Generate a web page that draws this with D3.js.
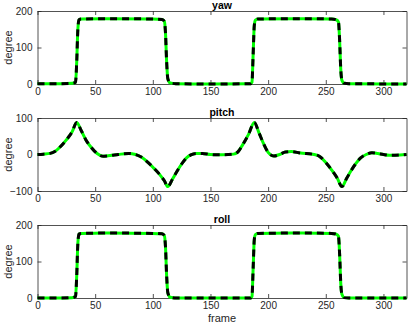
<!DOCTYPE html>
<html>
<head>
<meta charset="utf-8">
<script src="https://cdn.jsdelivr.net/npm/d3@7"></script>
<style>
  body { margin: 0; background: #fff; }
  svg { display: block; font-family: "Liberation Sans", Arial, sans-serif; }
</style>
</head>
<body>
<svg id="vis" width="409" height="324"></svg>
<script>
// frames / values
const yawFrames = [0, 20, 30, 33, 34, 35, 36, 38, 60, 100, 108, 110, 111, 112, 113, 115, 120, 150, 185, 186, 187, 188, 189, 191, 230, 255, 259, 261, 262, 263, 264, 266, 270, 320]
const yawValues = [1, 1, 2, 5, 60, 150, 176, 178, 179, 178, 177, 172, 140, 60, 15, 3, 1, 0, 1, 5, 80, 160, 175, 178, 179, 178, 176, 170, 120, 40, 10, 2, 1, 0]

const pitchFrames = [0, 5, 11, 15, 20, 25, 30, 34, 38, 42, 47, 52, 57, 63, 70, 79, 85, 90, 96, 101, 106, 110, 113, 117, 121, 125, 129, 133, 138, 143, 150, 160, 170, 174, 178, 183, 188, 192, 196, 200, 205, 210, 215, 220, 228, 240, 245, 250, 255, 260, 264, 268, 272, 276, 280, 285, 290, 295, 300, 305, 310, 320]
const pitchValues = [0, 1, 3, 8, 22, 40, 62, 88, 65, 40, 18, 2, -5, -3, 0, 3, 0, -7, -22, -38, -55, -72, -88, -68, -46, -26, -10, -1, 3, 3, 0, -1, 1, 8, 27, 55, 88, 60, 30, 6, -4, 0, 7, 8, 4, 0, -6, -22, -42, -65, -88, -66, -44, -25, -10, 0, 5, 3, 0, -2, -2, 0]

const rollFrames = [0, 20, 30, 33, 34, 35, 36, 38, 60, 100, 108, 110, 111, 112, 113, 115, 120, 150, 185, 186, 187, 188, 189, 191, 230, 255, 259, 261, 262, 263, 264, 266, 270, 320]
const rollValues = [0, 0, 1, 4, 60, 150, 175, 177, 178, 177, 176, 171, 140, 60, 15, 2, 0, 0, 0, 4, 80, 160, 174, 177, 178, 177, 175, 169, 120, 40, 10, 1, 0, 0]

const xTicks = [0, 50, 100, 150, 200, 250, 300]

const panels = [
  { title: 'yaw', frames: yawFrames, values: yawValues, domain: [0, 200], ticks: [0, 100, 200], top: 11 },
  { title: 'pitch', frames: pitchFrames, values: pitchValues, domain: [-100, 100], ticks: [-100, 0, 100], top: 118 },
  { title: 'roll', frames: rollFrames, values: rollValues, domain: [0, 200], ticks: [0, 100, 200], top: 225 }
]

const left = 37.5, right = 406.5, ph = 73
const ink = '#262626'

const svg = d3.select('#vis')
const x = d3.scaleLinear().domain([0, 320]).range([left, right])

panels.forEach((p) => {
  const y = d3.scaleLinear().domain(p.domain).range([p.top + ph, p.top])
  const g = svg.append('g')

  // bottom + top axes, ticks pointing inward (box style)
  g.append('g')
    .attr('transform', 'translate(0,' + (p.top + ph) + ')')
    .call(d3.axisBottom(x).tickValues(xTicks).tickSizeInner(-4).tickSizeOuter(0).tickPadding(4))
  g.append('g')
    .attr('transform', 'translate(0,' + p.top + ')')
    .call(d3.axisTop(x).tickValues(xTicks).tickSizeInner(-4).tickSizeOuter(0).tickFormat(''))
  g.append('g')
    .attr('transform', 'translate(' + left + ',0)')
    .call(d3.axisLeft(y).tickValues(p.ticks).tickSizeInner(-4).tickSizeOuter(0).tickPadding(5))
  g.append('g')
    .attr('transform', 'translate(' + right + ',0)')
    .call(d3.axisRight(y).tickValues(p.ticks).tickSizeInner(-4).tickSizeOuter(0).tickFormat(''))

  g.selectAll('.domain').attr('stroke', ink).attr('stroke-width', 0.8)
  g.selectAll('.tick line').attr('stroke', ink).attr('stroke-width', 0.8)
  g.selectAll('.tick text').attr('fill', ink).style('font-size', '10px').style('font-family', '"Liberation Sans", Arial, sans-serif')

  const pts = p.frames.map((f, k) => [f, p.values[k]])
  const line = d3.line()
    .x((d) => x(d[0]))
    .y((d) => y(d[1]))
    .curve(d3.curveMonotoneX)

  g.append('path')
    .attr('d', line(pts))
    .attr('fill', 'none')
    .attr('stroke', '#00ff00')
    .attr('stroke-width', 3)
  g.append('path')
    .attr('d', line(pts))
    .attr('fill', 'none')
    .attr('stroke', '#000')
    .attr('stroke-width', 3)
    .attr('stroke-dasharray', '7,5')

  g.append('text')
    .attr('x', (left + right) / 2)
    .attr('y', p.top - 2.5)
    .attr('text-anchor', 'middle')
    .attr('font-weight', 'bold')
    .attr('font-size', 10.5)
    .attr('fill', '#000')
    .text(p.title)

  g.append('text')
    .attr('transform', 'translate(12,' + (p.top + ph / 2) + ')rotate(-90)')
    .attr('text-anchor', 'middle')
    .attr('font-size', 11)
    .attr('fill', ink)
    .text('degree')
})

svg.append('text')
  .attr('x', (left + right) / 2)
  .attr('y', 322)
  .attr('text-anchor', 'middle')
  .attr('font-size', 11)
  .attr('fill', ink)
  .text('frame')
</script>
</body>
</html>
